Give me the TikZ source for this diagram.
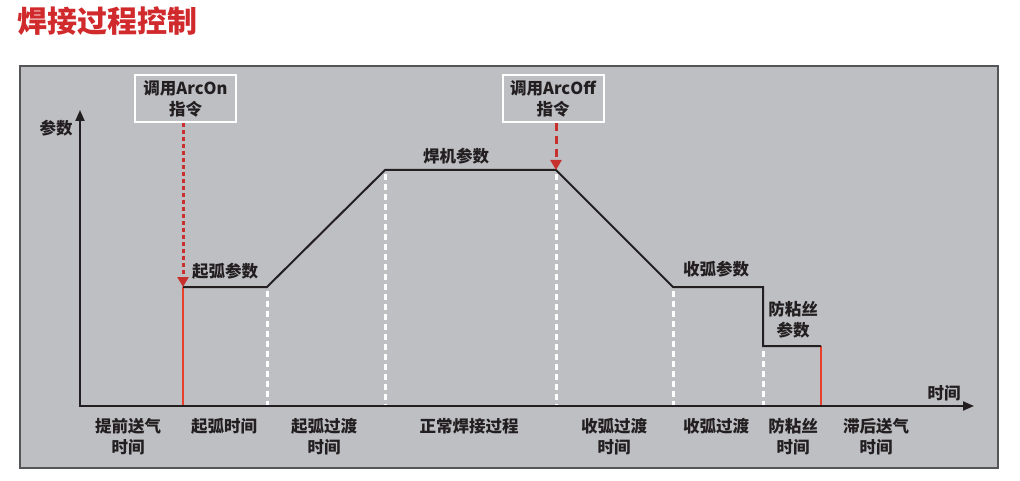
\documentclass[tikz,border=0pt]{standalone}
\usepackage{fontspec}
\newfontfamily\cjk{Noto Sans CJK SC}
\usetikzlibrary{arrows.meta}
\definecolor{panel}{HTML}{BEBFC3}
\definecolor{frame}{HTML}{555558}
\definecolor{ttl}{HTML}{D02A2C}
\definecolor{cmdred}{HTML}{C8302E}
\definecolor{arcred}{HTML}{E8402A}
\definecolor{ink}{HTML}{231F20}
\tikzset{
  lbl/.style={font=\cjk\bfseries\fontsize{16.5}{21}\selectfont, text=ink, align=center, inner sep=0pt},
  cmdbox/.style={draw=white, line width=2pt, font=\cjk\bfseries\fontsize{16.5}{21}\selectfont, text=ink, align=center, minimum width=101pt, minimum height=47pt, inner sep=0pt},
  axis/.style={draw=ink, line width=2pt, -{Triangle[length=11pt,width=9pt]}},
  curve/.style={draw=ink, line width=2pt},
  arcline/.style={draw=arcred, line width=2pt},
  guide/.style={draw=white, line width=3pt, dash pattern=on 6pt off 4pt},
  oncmd/.style={draw=cmdred, line width=3pt, dash pattern=on 4pt off 3pt, -{Triangle[length=10pt,width=11pt]}},
  offcmd/.style={draw=cmdred, line width=3pt, dash pattern=on 8pt off 5pt, -{Triangle[length=10pt,width=11pt]}},
}
\begin{document}
\begin{tikzpicture}[x=1pt,y=-1pt]
\useasboundingbox (0,0) rectangle (1020,481);
\node[anchor=west, inner sep=0pt, text=ttl, font=\cjk\bfseries\fontsize{30}{32}\selectfont] (title) at (17,21) {焊接过程控制};
\draw[draw=frame, fill=panel, line width=1.5pt] (20,66) rectangle (998,468);

% key coordinates
\coordinate (ytop) at (80,110);
\coordinate (xend) at (974,406);
\coordinate (p1) at (183,287);
\coordinate (p2) at (267,287);
\coordinate (p3) at (385,170);
\coordinate (p4) at (556,170);
\coordinate (p5) at (673,287);
\coordinate (p6) at (763,287);
\coordinate (p7) at (763,346);
\coordinate (p8) at (821,346);
\coordinate (b1) at (183,406);
\coordinate (b2) at (267,406);
\coordinate (b3) at (385,406);
\coordinate (b4) at (556,406);
\coordinate (b5) at (673,406);
\coordinate (b6) at (763,406);
\coordinate (b8) at (821,406);

% guides
\draw[guide] (267,291) -- (b2);
\draw[guide] (385,174) -- (b3);
\draw[guide] (556,174) -- (b4);
\draw[guide] (673,291) -- (b5);
\draw[guide] (763,351) -- (b6);

% red arc lines
\draw[arcline] (p1) -- (b1);
\draw[arcline] (p8) -- (b8);

% curve
\draw[curve, line join=miter] (p1) -- (p2) -- (p3) -- (p4) -- (p5) -- (p6) -- (p7) -- (p8);

% axes
\draw[axis] (80,407) -- (ytop);
\draw[axis] (79,406) -- (xend);

% command boxes
\node[cmdbox] (on) at (185.5,98.5) {调用ArcOn\\指令};
\node[cmdbox] (off) at (553,98.5) {调用ArcOff\\指令};
\draw[oncmd] (on.south -| p1) -- (p1);
\draw[offcmd] (off.south -| p4) -- (p4);

% labels
\node[lbl] (ylab) at (56,128) {参数};
\node[lbl] (xlab) at (944,393) {时间};
\node[lbl] (l1) at (225,271) {起弧参数};
\node[lbl] (l2) at (456,156) {焊机参数};
\node[lbl] (l3) at (716,269) {收弧参数};
\node[lbl] (l4) at (793,320) {防粘丝\\参数};

\node[lbl, anchor=north] (t1) at (128,418) {提前送气\\时间};
\node[lbl, anchor=north] (t2) at (224,418) {起弧时间};
\node[lbl, anchor=north] (t3) at (324,418) {起弧过渡\\时间};
\node[lbl, anchor=north] (t4) at (469,418) {正常焊接过程};
\node[lbl, anchor=north] (t5) at (614,418) {收弧过渡\\时间};
\node[lbl, anchor=north] (t6) at (716,418) {收弧过渡};
\node[lbl, anchor=north] (t7) at (793,418) {防粘丝\\时间};
\node[lbl, anchor=north] (t8) at (876,418) {滞后送气\\时间};
\end{tikzpicture}
\end{document}
